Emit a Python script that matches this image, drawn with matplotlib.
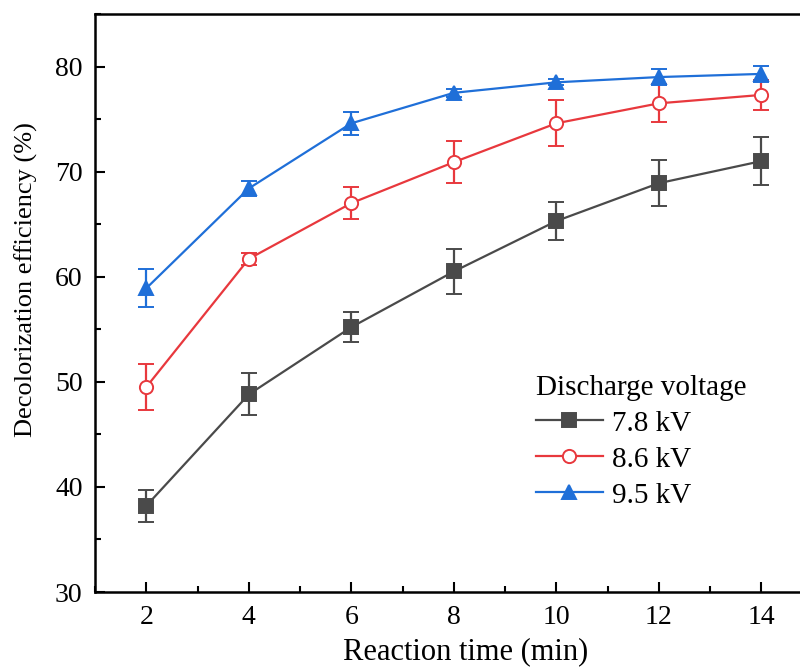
import matplotlib.pyplot as plt
from matplotlib.ticker import MultipleLocator

plt.rcParams['font.family'] = ['Liberation Serif', 'DejaVu Serif']

# --- data ---
time_min = [2, 4, 6, 8, 10, 12, 14]
labels = ["7.8 kV", "8.6 kV", "9.5 kV"]
eff_78 = [38.2, 48.8, 55.2, 60.5, 65.3, 68.9, 71.0]
err_78 = [1.5, 2.0, 1.4, 2.1, 1.8, 2.2, 2.3]
eff_86 = [49.5, 61.7, 67.0, 70.9, 74.6, 76.5, 77.3]
err_86 = [2.2, 0.6, 1.5, 2.0, 2.2, 1.8, 1.4]
eff_95 = [58.9, 68.4, 74.6, 77.5, 78.5, 79.0, 79.3]
err_95 = [1.8, 0.7, 1.1, 0.4, 0.3, 0.8, 0.8]

colors = ["#4a4a4a", "#e8383d", "#1f6fd8"]

fig = plt.figure(figsize=(8, 6.67), dpi=100)
ax = fig.add_axes([0.11875, 0.1124, 0.897, 0.8666])

series = [(eff_78, err_78, "s", colors[0]),
          (eff_86, err_86, "o", colors[1]),
          (eff_95, err_95, "^", colors[2])]
for (vals, errs, mk, c), lab in zip(series, labels):
    face = "white" if mk == "o" else c
    ax.errorbar(time_min, vals, yerr=errs, color=c, marker=mk, markersize=9.5,
                markerfacecolor=face, markeredgecolor=c, markeredgewidth=1.4,
                linewidth=1.6, elinewidth=1.6, capsize=6, capthick=1.6,
                label=lab)

ax.set_xlim(1, 15)
ax.set_ylim(30, 85)
ax.xaxis.set_major_locator(MultipleLocator(2))
ax.xaxis.set_minor_locator(MultipleLocator(1))
ax.yaxis.set_major_locator(MultipleLocator(10))
ax.yaxis.set_minor_locator(MultipleLocator(5))
ax.tick_params(which="both", direction="in", width=1.5, labelsize=20, pad=9)
ax.tick_params(which="major", length=7)
ax.tick_params(which="minor", length=4)
for s in ax.spines.values():
    s.set_linewidth(1.8)

ax.set_xlabel("Reaction time (min)", fontsize=22)
ax.set_ylabel("Decolorization efficiency (%)", fontsize=19)
ax.xaxis.set_label_coords(0.516, -0.078)
ax.yaxis.set_label_coords(-0.079, 0.54)

handles, _ = ax.get_legend_handles_labels()
handles = [h[0] for h in handles]
leg = ax.legend(handles, labels, title="Discharge voltage", frameon=False,
                fontsize=21, title_fontsize=21, loc="lower left",
                bbox_to_anchor=(0.598, 0.124), handlelength=2.3,
                handletextpad=0.3, labelspacing=0.33, borderaxespad=0)
leg._legend_box.align = "left"

fig.savefig("out.png", dpi=100)
